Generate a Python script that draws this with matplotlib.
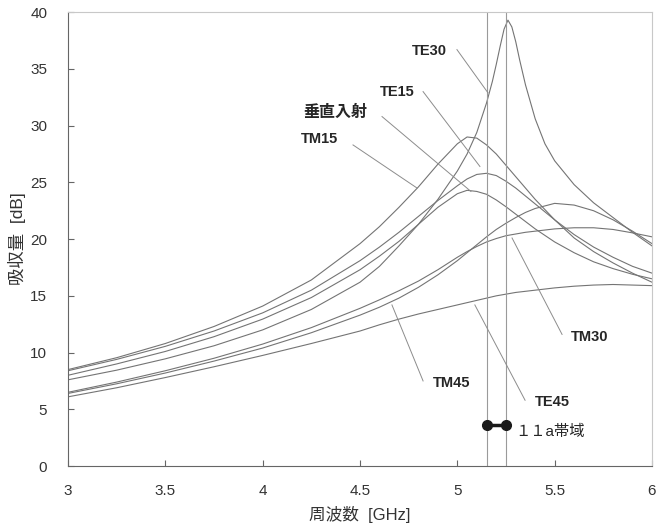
import matplotlib
matplotlib.use("Agg")
import matplotlib.pyplot as plt

plt.rcParams['font.family'] = ['Liberation Sans', 'Noto Sans CJK JP', 'DejaVu Sans']

# ── data ───────────────────────────────────────────────────────────────────
freq = [3.0, 3.25, 3.5, 3.75, 4.0, 4.25, 4.5, 4.6, 4.7, 4.8, 4.9, 5.0, 5.05,
        5.1, 5.15, 5.2, 5.25, 5.3, 5.35, 5.4, 5.5, 5.6, 5.7, 5.8, 5.9, 6.0]

tm15 = [8.5, 9.55, 10.8, 12.3, 14.1, 16.4, 19.6, 21.1, 22.8, 24.6, 26.6, 28.4, 29.0,
        28.9, 28.3, 27.5, 26.5, 25.5, 24.5, 23.5, 21.7, 20.1, 18.9, 17.9, 17.0, 16.2]
te15 = [8.4, 9.4, 10.55, 11.9, 13.5, 15.5, 18.1, 19.3, 20.6, 22.0, 23.4, 24.7, 25.3,
        25.7, 25.8, 25.6, 25.1, 24.5, 23.8, 23.1, 21.7, 20.4, 19.3, 18.4, 17.6, 17.0]
normal = [8.0, 9.0, 10.1, 11.4, 12.95, 14.85, 17.3, 18.5, 19.8, 21.3, 22.8, 24.0, 24.3,
          24.2, 23.95, 23.45, 22.85, 22.2, 21.55, 20.9, 19.75, 18.8, 18.0, 17.4, 16.9, 16.5]
tm30 = [6.5, 7.4, 8.4, 9.5, 10.75, 12.2, 13.9, 14.65, 15.45, 16.3, 17.3, 18.4, 18.9,
        19.35, 19.75, 20.05, 20.3, 20.45, 20.6, 20.7, 20.9, 21.0, 21.0, 20.85, 20.55, 20.2]
tm45 = [6.4, 7.25, 8.2, 9.25, 10.4, 11.75, 13.3, 14.0, 14.8, 15.75, 16.85, 18.1, 18.8,
        19.5, 20.2, 20.85, 21.4, 21.9, 22.35, 22.7, 23.15, 23.0, 22.5, 21.7, 20.7, 19.6]
te45 = [6.1, 6.9, 7.8, 8.75, 9.75, 10.8, 11.9, 12.45, 12.95, 13.4, 13.8, 14.2, 14.4,
        14.6, 14.8, 15.0, 15.15, 15.3, 15.4, 15.5, 15.7, 15.85, 15.95, 16.0, 15.95, 15.9]

# TE30 is sharp, so it gets its own finer frequency list
freq_te30 = [3.0, 3.25, 3.5, 3.75, 4.0, 4.25, 4.5, 4.6, 4.7, 4.8, 4.9, 5.0, 5.05,
             5.1, 5.15, 5.18, 5.2, 5.22, 5.24, 5.26, 5.28, 5.3, 5.32, 5.35, 5.4,
             5.45, 5.5, 5.6, 5.7, 5.8, 5.9, 6.0]
te30 = [7.6, 8.45, 9.45, 10.6, 12.0, 13.8, 16.2, 17.6, 19.4, 21.3, 23.5, 26.0, 27.5,
        29.4, 32.0, 33.9, 35.4, 37.0, 38.5, 39.3, 38.7, 37.4, 35.8, 33.6, 30.6,
        28.4, 26.9, 24.8, 23.2, 21.9, 20.6, 19.4]

band = [5.15, 5.25]      # 11a band edges [GHz]
band_level = 3.6         # dB, where the band marker sits

# label text, text centre, leader start, leader end
labels = [
    ("TE30",     (4.854, 36.6), (4.998, 36.7), (5.157, 32.9)),
    ("TE15",     (4.690, 33.0), (4.824, 33.0), (5.116, 26.4)),
    ("垂直入射", (4.372, 31.2), (4.613, 30.8), (5.070, 24.2)),
    ("TM15",     (4.294, 28.8), (4.464, 28.3), (4.793, 24.5)),
    ("TM30",     (5.681, 11.4), (5.538, 11.6), (5.281, 20.1)),
    ("TM45",     (4.973, 7.3),  (4.824, 7.5),  (4.664, 14.2)),
    ("TE45",     (5.490, 5.65), (5.348, 5.8),  (5.090, 14.2)),
]

# ── plot ────────────────────────────────────────────────────────────────────
fig = plt.figure(figsize=(6.67, 5.29), dpi=100)
ax = fig.add_axes([0.102, 0.119, 0.8755, 0.858])

curve_color = '#747474'
for y in (tm15, te15, normal, tm30, tm45, te45):
    ax.plot(freq, y, color=curve_color, lw=0.8)
ax.plot(freq_te30, te30, color=curve_color, lw=0.8)

# 11a band frame
for b in band:
    ax.axvline(b, color='#9a9a9a', lw=0.8)

# leader lines + labels
for text, pos, start, end in labels:
    ax.plot([start[0], end[0]], [start[1], end[1]], color='#8c8c8c', lw=0.7)
    size = 11.5 if text == "垂直入射" else 10.5
    ax.text(pos[0], pos[1], text, ha='center', va='center', fontsize=size,
            color='#262626', fontweight='bold')

# band marker
ax.plot(band, [band_level, band_level], color='#1a1a1a', lw=2.5,
        marker='o', ms=7, solid_capstyle='round')
ax.text(5.296, 3.0, "１１a帯域", ha='left', va='center', fontsize=11,
        color='#262626')

ax.set_xlim(3, 6)
ax.set_ylim(0, 40)
ax.set_xticks([3, 3.5, 4, 4.5, 5, 5.5, 6])
ax.set_xticklabels(['3', '3.5', '4', '4.5', '5', '5.5', '6'])
ax.set_yticks(range(0, 41, 5))

ax.tick_params(direction='in', length=4, width=0.8, color='#666666',
               labelsize=11, labelcolor='#333333')
ax.tick_params(axis='y', pad=15)
ax.tick_params(axis='x', pad=13)

for side in ('left', 'bottom'):
    ax.spines[side].set_color('#666666')
    ax.spines[side].set_linewidth(0.8)
for side in ('top', 'right'):
    ax.spines[side].set_color('#c8c8c8')
    ax.spines[side].set_linewidth(0.8)

ax.set_xlabel("周波数  [GHz]", fontsize=12, color='#333333', labelpad=6)
ax.set_ylabel("吸収量  [dB]", fontsize=12.5, color='#333333', labelpad=3)

fig.savefig("out.png", dpi=100)
